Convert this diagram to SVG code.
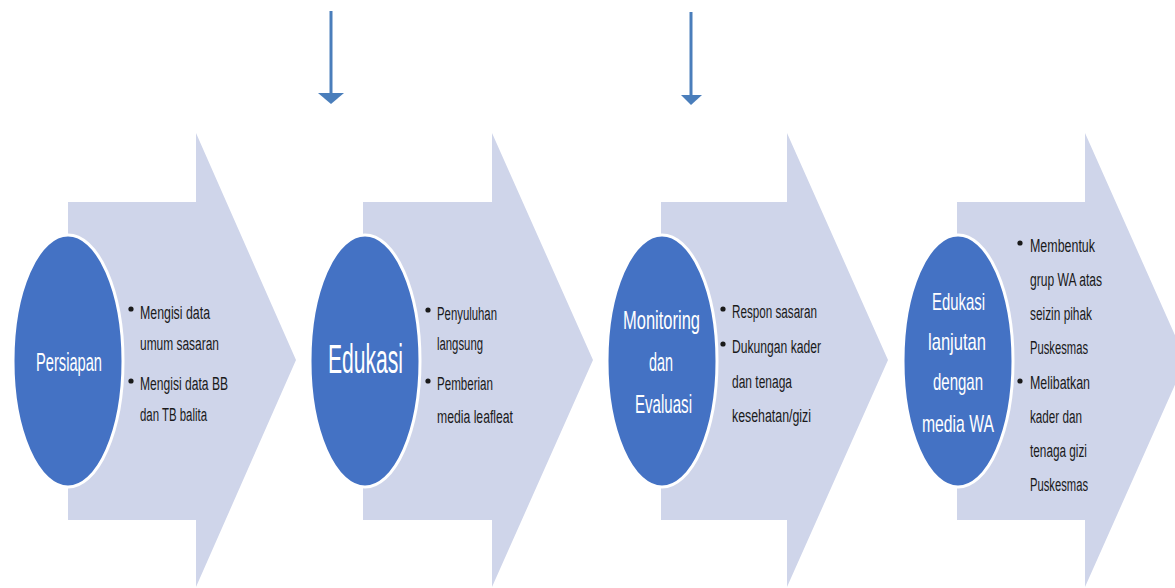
<svg xmlns="http://www.w3.org/2000/svg" width="1175" height="588" viewBox="0 0 1175 588">
<defs>
<style>
.chev{fill:#CFD5EA;}
.circ{fill:#4472C4;stroke:#FFFFFF;stroke-width:3;}
.lbl{font-family:"Liberation Sans",Arial,sans-serif;fill:#FFFFFF;}
.bt{font-family:"Liberation Sans",Arial,sans-serif;font-size:18px;fill:#1A1A1A;}
.dot{fill:#1A1A1A;}
.conn{stroke:#4A7EBB;stroke-width:3;fill:none;}
.head{fill:#4A7EBB;}
</style>
</defs>
<rect width="1175" height="588" fill="#FFFFFF"/>

<g id="step1">
<polygon class="chev" points="68,202 196,202 196,133 296,360 196,587 196,520 68,520"/>
<ellipse class="circ" cx="68" cy="361" rx="55" ry="126"/>
<text class="lbl" x="36" y="371" font-size="26" textLength="66" lengthAdjust="spacingAndGlyphs">Persiapan</text>
<circle class="dot" cx="131" cy="309" r="2.6"/>
<text class="bt" x="140" y="319" textLength="70" lengthAdjust="spacingAndGlyphs">Mengisi data</text>
<text class="bt" x="140" y="350" textLength="79" lengthAdjust="spacingAndGlyphs">umum sasaran</text>
<circle class="dot" cx="131" cy="381" r="2.6"/>
<text class="bt" x="140" y="390" textLength="88" lengthAdjust="spacingAndGlyphs">Mengisi data BB</text>
<text class="bt" x="140" y="421" textLength="67" lengthAdjust="spacingAndGlyphs">dan TB balita</text>
</g>

<g id="step2">
<polygon class="chev" points="363,202 492,202 492,133 593,360 492,587 492,520 363,520"/>
<ellipse class="circ" cx="365" cy="361" rx="55" ry="126"/>
<text class="lbl" transform="translate(328,373) scale(0.53,1)" x="0" y="0" font-size="40" textLength="141.5" lengthAdjust="spacingAndGlyphs">Edukasi</text>
<circle class="dot" cx="428" cy="310" r="2.6"/>
<text class="bt" x="437" y="320" textLength="60" lengthAdjust="spacingAndGlyphs">Penyuluhan</text>
<text class="bt" x="437" y="350" textLength="46" lengthAdjust="spacingAndGlyphs">langsung</text>
<circle class="dot" cx="428" cy="381" r="2.6"/>
<text class="bt" x="437" y="390" textLength="56" lengthAdjust="spacingAndGlyphs">Pemberian</text>
<text class="bt" x="437" y="423" textLength="76" lengthAdjust="spacingAndGlyphs">media leafleat</text>
</g>

<g id="step3">
<polygon class="chev" points="661,202 787,202 787,133 888,360 787,587 787,520 661,520"/>
<ellipse class="circ" cx="662" cy="361" rx="55" ry="126"/>
<text class="lbl" x="623" y="329" font-size="25" textLength="77" lengthAdjust="spacingAndGlyphs">Monitoring</text>
<text class="lbl" x="649" y="371" font-size="25" textLength="24" lengthAdjust="spacingAndGlyphs">dan</text>
<text class="lbl" x="635" y="413" font-size="25" textLength="57" lengthAdjust="spacingAndGlyphs">Evaluasi</text>
<circle class="dot" cx="723" cy="309" r="2.6"/>
<text class="bt" x="732" y="318" textLength="85" lengthAdjust="spacingAndGlyphs">Respon sasaran</text>
<circle class="dot" cx="723" cy="344" r="2.6"/>
<text class="bt" x="732" y="353" textLength="89" lengthAdjust="spacingAndGlyphs">Dukungan kader</text>
<text class="bt" x="732" y="388" textLength="60" lengthAdjust="spacingAndGlyphs">dan tenaga</text>
<text class="bt" x="732" y="422" textLength="79" lengthAdjust="spacingAndGlyphs">kesehatan/gizi</text>
</g>

<g id="step4">
<polygon class="chev" points="957,202 1085,202 1085,133 1186,360 1085,587 1085,520 957,520"/>
<ellipse class="circ" cx="958" cy="361" rx="55" ry="126"/>
<text class="lbl" x="932" y="310" font-size="24" textLength="53" lengthAdjust="spacingAndGlyphs">Edukasi</text>
<text class="lbl" x="928" y="350" font-size="24" textLength="58" lengthAdjust="spacingAndGlyphs">lanjutan</text>
<text class="lbl" x="933" y="390" font-size="24" textLength="50" lengthAdjust="spacingAndGlyphs">dengan</text>
<text class="lbl" x="922" y="432" font-size="24" textLength="72" lengthAdjust="spacingAndGlyphs">media WA</text>
<circle class="dot" cx="1020" cy="243" r="2.6"/>
<text class="bt" x="1030" y="252" textLength="65" lengthAdjust="spacingAndGlyphs">Membentuk</text>
<text class="bt" x="1030" y="286" textLength="72" lengthAdjust="spacingAndGlyphs">grup WA atas</text>
<text class="bt" x="1030" y="320" textLength="62" lengthAdjust="spacingAndGlyphs">seizin pihak</text>
<text class="bt" x="1030" y="354" textLength="58" lengthAdjust="spacingAndGlyphs">Puskesmas</text>
<circle class="dot" cx="1020" cy="381" r="2.6"/>
<text class="bt" x="1030" y="389" textLength="60" lengthAdjust="spacingAndGlyphs">Melibatkan</text>
<text class="bt" x="1030" y="423" textLength="52" lengthAdjust="spacingAndGlyphs">kader dan</text>
<text class="bt" x="1030" y="457" textLength="57" lengthAdjust="spacingAndGlyphs">tenaga gizi</text>
<text class="bt" x="1030" y="491" textLength="58" lengthAdjust="spacingAndGlyphs">Puskesmas</text>
</g>

<g id="connectors">
<line class="conn" x1="331" y1="11" x2="331" y2="94"/>
<polygon class="head" points="318,93 344,93 331,104"/>
<line class="conn" x1="691" y1="12" x2="691" y2="96"/>
<polygon class="head" points="681,95 702,95 691,105"/>
</g>
</svg>
